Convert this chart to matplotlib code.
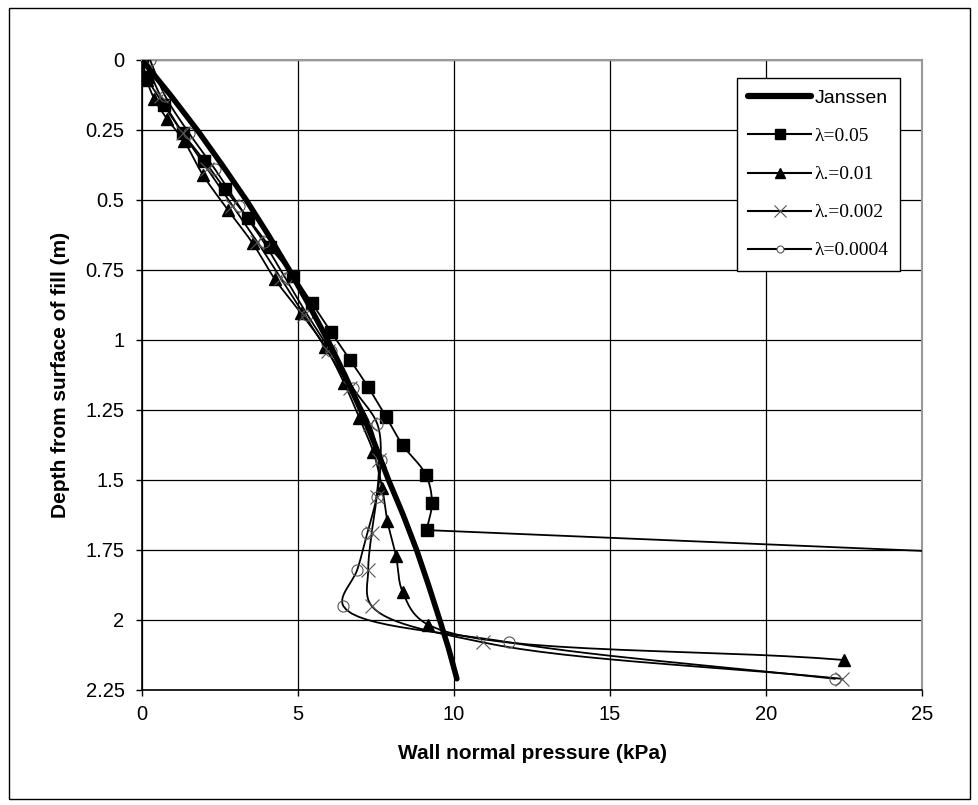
import numpy as np
import matplotlib
matplotlib.use("Agg")
import matplotlib.pyplot as plt
from matplotlib.lines import Line2D
from matplotlib.patches import Rectangle

# Janssen solution
janssen_depth = [0, 0.125, 0.25, 0.375, 0.5, 0.625, 0.75, 0.875, 1.0, 1.125, 1.25,
                 1.375, 1.5, 1.625, 1.75, 1.875, 2.0, 2.1, 2.21]
janssen_p = [0, 0.91, 1.77, 2.57, 3.34, 4.05, 4.72, 5.35, 5.95, 6.5, 7.01,
             7.47, 7.9, 8.37, 8.8, 9.18, 9.54, 9.82, 10.09]

# lambda = 0.05
l05_depth = [0, 0.06, 0.16, 0.26, 0.36, 0.46, 0.565, 0.668, 0.771, 0.867, 0.97,
             1.071, 1.169, 1.274, 1.375, 1.482, 1.581, 1.679, 1.80]
l05_p = [0, 0.15, 0.7, 1.3, 2.0, 2.65, 3.4, 4.1, 4.85, 5.44, 6.05,
         6.67, 7.25, 7.82, 8.35, 9.1, 9.29, 9.12, 35.0]

# lambda = 0.01
l01_depth = [0, 0.07, 0.14, 0.21, 0.29, 0.41, 0.535, 0.655, 0.783, 0.902, 1.024,
             1.152, 1.28, 1.399, 1.53, 1.645, 1.771, 1.899, 2.018, 2.143]
l01_p = [0, 0.15, 0.4, 0.8, 1.35, 1.95, 2.75, 3.55, 4.26, 5.08, 5.87,
         6.47, 6.97, 7.41, 7.7, 7.86, 8.14, 8.35, 9.18, 22.5]

# lambda = 0.002
l002_depth = [0, 0.13, 0.26, 0.39, 0.52, 0.65, 0.78, 0.91, 1.04, 1.17, 1.30,
              1.43, 1.56, 1.69, 1.82, 1.95, 2.08, 2.21]
l002_p = [0.1, 0.6, 1.3, 2.1, 2.9, 3.7, 4.45, 5.2, 5.95, 6.65, 7.3,
          7.58, 7.52, 7.36, 7.25, 7.36, 10.92, 22.42]

# lambda = 0.0004
l0004_depth = [0, 0.13, 0.26, 0.39, 0.52, 0.65, 0.78, 0.91, 1.04, 1.17, 1.30,
               1.43, 1.56, 1.69, 1.82, 1.95, 2.08, 2.21]
l0004_p = [0.26, 0.75, 1.5, 2.34, 3.1, 3.9, 4.6, 5.3, 6.05, 6.75, 7.54,
           7.65, 7.52, 7.22, 6.9, 6.45, 11.77, 22.2]


def smooth_curve(xs, ys, straight_tail=0, sx=31.2, sy=280.0, n=16):
    # centripetal Catmull-Rom through the points (Excel-like smoothed line)
    xs = np.asarray(xs, float)
    ys = np.asarray(ys, float)
    k = len(xs) - straight_tail
    P = np.column_stack([xs[:k] * sx, ys[:k] * sy])
    P = np.vstack([2 * P[0] - P[1], P, 2 * P[-1] - P[-2]])
    out = []
    for i in range(1, len(P) - 2):
        p0, p1, p2, p3 = P[i - 1], P[i], P[i + 1], P[i + 2]
        t0 = 0.0
        t1 = t0 + np.linalg.norm(p1 - p0) ** 0.5 + 1e-9
        t2 = t1 + np.linalg.norm(p2 - p1) ** 0.5 + 1e-9
        t3 = t2 + np.linalg.norm(p3 - p2) ** 0.5 + 1e-9
        t = np.linspace(t1, t2, n)[:, None]
        a1 = (t1 - t) / (t1 - t0) * p0 + (t - t0) / (t1 - t0) * p1
        a2 = (t2 - t) / (t2 - t1) * p1 + (t - t1) / (t2 - t1) * p2
        a3 = (t3 - t) / (t3 - t2) * p2 + (t - t2) / (t3 - t2) * p3
        b1 = (t2 - t) / (t2 - t0) * a1 + (t - t0) / (t2 - t0) * a2
        b2 = (t3 - t) / (t3 - t1) * a2 + (t - t1) / (t3 - t1) * a3
        c = (t2 - t) / (t2 - t1) * b1 + (t - t1) / (t2 - t1) * b2
        out.append(c)
    c = np.vstack(out)
    cx = list(c[:, 0] / sx) + list(xs[k:])
    cy = list(c[:, 1] / sy) + list(ys[k:])
    return cx, cy


fig = plt.figure(figsize=(9.79, 8.05), dpi=100)
ax = fig.add_axes([0.145, 0.1429, 0.797, 0.7826])

ax.plot(janssen_p, janssen_depth, color="black", lw=4.0, solid_capstyle="round", zorder=5)

series = [
    (l05_p, l05_depth, 1, "s", 8.5, "black", "black", 1.0),
    (l01_p, l01_depth, 0, "^", 9, "black", "black", 1.0),
    (l002_p, l002_depth, 0, "x", 10, "none", "#555555", 0.8),
    (l0004_p, l0004_depth, 0, "o", 8, "none", "#555555", 0.8),
]
for px, pd, tail, mk, ms, mfc, mec, mew in series:
    sxp, syp = smooth_curve(px, pd, straight_tail=tail)
    ax.plot(sxp, syp, color="black", lw=1.3, zorder=3)
    ax.plot(px, pd, ls="none", marker=mk, ms=ms, mfc=mfc, mec=mec, mew=mew, zorder=4)

ax.set_xlim(0, 25)
ax.set_ylim(2.25, 0)
ax.set_xticks([0, 5, 10, 15, 20, 25])
ax.set_yticks([0, 0.25, 0.5, 0.75, 1, 1.25, 1.5, 1.75, 2, 2.25])
ax.set_yticklabels(["0", "0.25", "0.5", "0.75", "1", "1.25", "1.5", "1.75", "2", "2.25"])
ax.grid(True, color="black", lw=0.9)
ax.set_axisbelow(True)
ax.tick_params(direction="out", length=4, width=1, labelsize=14.5)
ax.tick_params(axis="x", pad=7)
ax.tick_params(axis="y", pad=8.5)
for lab in ax.get_xticklabels() + ax.get_yticklabels():
    lab.set_family("Liberation Sans")
for s in ["left", "bottom"]:
    ax.spines[s].set_color("black")
    ax.spines[s].set_linewidth(1.2)
for s in ["top", "right"]:
    ax.spines[s].set_color("#999999")
    ax.spines[s].set_linewidth(1.5)

ax.set_xlabel("Wall normal pressure (kPa)", family="Liberation Sans", weight="bold",
              fontsize=15, labelpad=14)
ax.set_ylabel("Depth from surface of fill (m)", family="Liberation Sans", weight="bold",
              fontsize=15, labelpad=11)

handles = [
    Line2D([], [], color="black", lw=4.5, solid_capstyle="round"),
    Line2D([], [], color="black", lw=1.5, marker="s", ms=7),
    Line2D([], [], color="black", lw=1.5, marker="^", ms=7),
    Line2D([], [], color="black", lw=1.5, marker="x", ms=9, mec="#555555", mew=0.8),
    Line2D([], [], color="black", lw=1.5, marker="o", ms=5, mfc="white", mec="#555555", mew=0.8),
]
labels = ["Janssen", "\u03bb=0.05", "\u03bb.=0.01", "\u03bb.=0.002", "\u03bb=0.0004"]
leg = ax.legend(handles, labels, loc="upper right", bbox_to_anchor=(0.9718, 0.9714),
                borderaxespad=0, fancybox=False, framealpha=1, edgecolor="black",
                fontsize=14, handlelength=3.2, handletextpad=0.2, labelspacing=1.05,
                borderpad=0.6)
leg.get_frame().set_linewidth(1.0)
leg.get_texts()[0].set_family("Liberation Sans")
for t in leg.get_texts()[1:]:
    t.set_family("Liberation Serif")

fig.patches.append(Rectangle((0.009, 0.007), 0.982, 0.983, transform=fig.transFigure,
                             fill=False, edgecolor="black", lw=1.0))

fig.savefig("out.png", dpi=100)
